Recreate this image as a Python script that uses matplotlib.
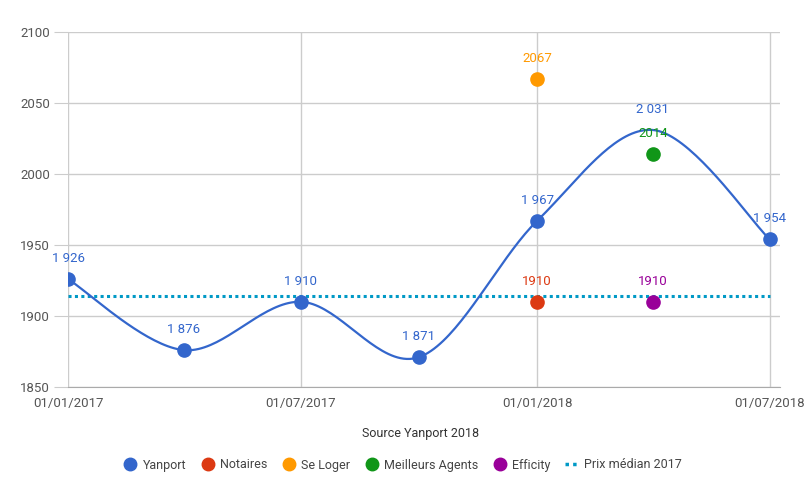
import numpy as np
import matplotlib
matplotlib.use("Agg")
import matplotlib.pyplot as plt
import matplotlib.dates as mdates
from matplotlib.lines import Line2D
import datetime as dt

plt.rcParams['font.family'] = ['Roboto', 'DejaVu Sans']

# ---- data ----
dates = ["2017-01-01", "2017-04-01", "2017-07-01", "2017-10-01",
         "2018-01-01", "2018-04-01", "2018-07-01"]
yanport = [1926, 1876, 1910, 1871, 1967, 2031, 1954]
yanport_labels = ["1 926", "1 876", "1 910", "1 871", "1 967", "2 031", "1 954"]
notaires_date, notaires_val = "2018-01-01", 1910
seloger_date, seloger_val = "2018-01-01", 2067
meilleurs_date, meilleurs_val = "2018-04-01", 2014
efficity_date, efficity_val = "2018-04-01", 1910
median_2017 = 1914
xtick_dates = ["2017-01-01", "2017-07-01", "2018-01-01", "2018-07-01"]
yticks = [1850, 1900, 1950, 2000, 2050, 2100]

colors = {"Yanport": "#3366cc", "Notaires": "#dc3912", "Se Loger": "#ff9900",
          "Meilleurs Agents": "#109618", "Efficity": "#990099",
          "median": "#0099c6"}

def d(s):
    return mdates.date2num(dt.datetime.strptime(s, "%Y-%m-%d"))

fig = plt.figure(figsize=(8.05, 4.98), dpi=100)
ax = fig.add_axes([68/805, 111/498, 712/805, 355/498])

xs = np.array([d(s) for s in dates])
ys = np.array(yanport, dtype=float)

# Catmull-Rom style smoothing through the data points
def smooth(x, y, n=40, t=0.5):
    px, py = [], []
    N = len(x)
    for i in range(N - 1):
        x0, y0 = (x[i-1], y[i-1]) if i > 0 else (x[i], y[i])
        x1, y1 = x[i], y[i]
        x2, y2 = x[i+1], y[i+1]
        x3, y3 = (x[i+2], y[i+2]) if i + 2 < N else (x[i+1], y[i+1])
        c1x = x1 + (x2 - x0) * t / 3
        c1y = y1 + (y2 - y0) * t / 3
        c2x = x2 - (x3 - x1) * t / 3
        c2y = y2 - (y3 - y1) * t / 3
        s = np.linspace(0, 1, n)
        bx = (1-s)**3*x1 + 3*(1-s)**2*s*c1x + 3*(1-s)*s**2*c2x + s**3*x2
        by = (1-s)**3*y1 + 3*(1-s)**2*s*c1y + 3*(1-s)*s**2*c2y + s**3*y2
        px.extend(bx); py.extend(by)
    return np.array(px), np.array(py)

sx, sy = smooth(xs, ys, t=0.5)

# median line
ax.plot([xs[0], xs[-1]], [median_2017, median_2017], color=colors["median"],
        lw=2.2, linestyle=(0, (1, 1.1)), zorder=2)

ax.plot(sx, sy, color=colors["Yanport"], lw=1.6, zorder=3)
mask = [i for i in range(len(xs)) if i != 5]
ax.plot(xs[mask], ys[mask], 'o', color=colors["Yanport"], ms=9.5, zorder=4)

for x, y, lab in zip(xs, ys, yanport_labels):
    ax.annotate(lab, (x, y), xytext=(0, 10), textcoords='offset points',
                ha='center', va='bottom', fontsize=9.5, color=colors["Yanport"], zorder=6)

others = [("Notaires", notaires_date, notaires_val),
          ("Se Loger", seloger_date, seloger_val),
          ("Meilleurs Agents", meilleurs_date, meilleurs_val),
          ("Efficity", efficity_date, efficity_val)]
for name, ds, v in others:
    ax.plot([d(ds)], [v], 'o', color=colors[name], ms=9.5, zorder=5)
    ax.annotate(str(v), (d(ds), v), xytext=(0, 10), textcoords='offset points',
                ha='center', va='bottom', fontsize=9.5, color=colors[name], zorder=6)

ax.set_ylim(1850, 2100)
ax.set_xlim(d("2017-01-01"), d("2018-07-09"))
ax.set_yticks(yticks)
ax.set_xticks([d(s) for s in xtick_dates])
ax.xaxis.set_major_formatter(mdates.DateFormatter("%d/%m/%Y"))
ax.grid(True, color="#cccccc", lw=1)
ax.set_axisbelow(True)
for sp in ["top", "right", "left"]:
    ax.spines[sp].set_visible(False)
ax.spines["bottom"].set_color("#aaaaaa")
ax.tick_params(axis='y', length=10, color="#cccccc", labelcolor="#555555",
               labelsize=9.5, pad=3)
ax.tick_params(axis='x', length=0, labelcolor="#555555", labelsize=9.5, pad=7)

fig.text(421/805, 1 - 434/498, "Source Yanport 2018", ha='center', va='center',
         fontsize=9, color="#333333")

handles = [Line2D([], [], marker='o', ls='none', color=colors[n], ms=9)
           for n in ["Yanport", "Notaires", "Se Loger", "Meilleurs Agents", "Efficity"]]
handles.append(Line2D([], [], color=colors["median"], lw=2.5, linestyle=(0, (1, 1.2))))
labels = ["Yanport", "Notaires", "Se Loger", "Meilleurs Agents", "Efficity", "Prix médian 2017"]
leg = fig.legend(handles, labels, loc='center', bbox_to_anchor=(403/805, 1 - 465/498),
                 ncol=6, frameon=False, fontsize=9, handlelength=1.0,
                 handletextpad=0.5, columnspacing=1.2)
for t in leg.get_texts():
    t.set_color("#444444")

fig.savefig("out.png", dpi=100)
